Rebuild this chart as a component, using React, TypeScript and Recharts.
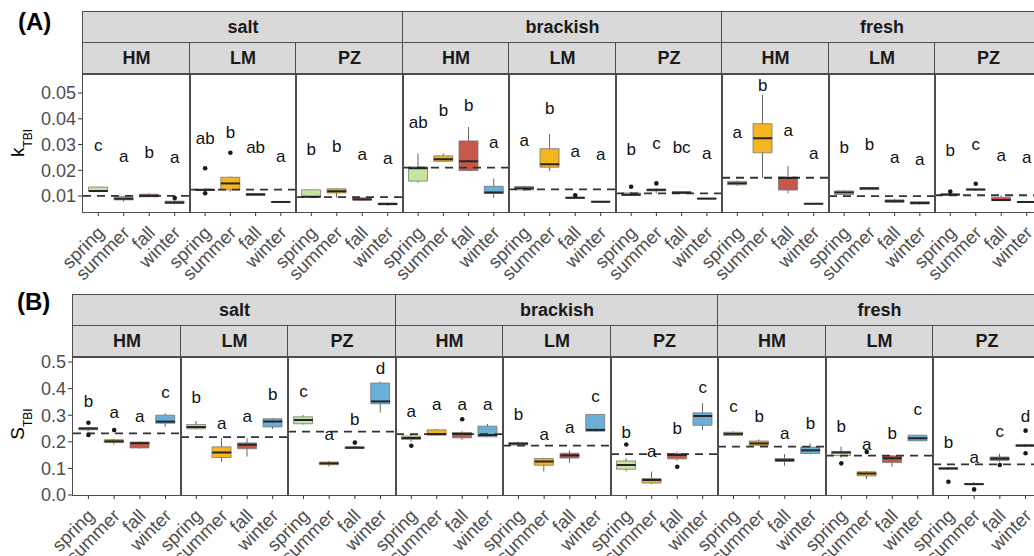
import { ComposedChart, Bar, Scatter, XAxis, YAxis, ReferenceLine, Cell } from "recharts"

const seasons = ["spring", "summer", "fall", "winter"]
const locations = ["salt", "brackish", "fresh"]
const marshTypes = ["HM", "LM", "PZ"]
const seasonFill = ["#c5e6a0", "#f6b51f", "#c6584a", "#6baed6"]

// each box: [lower whisker, q1, median, q3, upper whisker]
// panel order: salt HM/LM/PZ, brackish HM/LM/PZ, fresh HM/LM/PZ
type Box = number[]

const kBoxes: Box[][] = [
  [[0.0115, 0.0118, 0.012, 0.0135, 0.0137], [0.0079, 0.0085, 0.0089, 0.0097, 0.01], [0.0096, 0.0097, 0.0101, 0.0107, 0.011], [0.0068, 0.0071, 0.0075, 0.008, 0.0084]],
  [[0.0118, 0.0122, 0.0124, 0.0126, 0.0128], [0.0117, 0.0124, 0.0149, 0.0173, 0.0176], [0.0101, 0.0103, 0.0106, 0.011, 0.0112], [0.0075, 0.0076, 0.0077, 0.0078, 0.0079]],
  [[0.0095, 0.0096, 0.0097, 0.0124, 0.0125], [0.0093, 0.0112, 0.0119, 0.0128, 0.013], [0.0082, 0.0085, 0.0087, 0.0093, 0.0095], [0.0062, 0.0066, 0.0069, 0.0073, 0.0074]],
  [[0.0152, 0.0158, 0.0208, 0.0213, 0.0265], [0.0233, 0.0235, 0.0243, 0.0256, 0.0265], [0.0197, 0.0199, 0.0235, 0.0314, 0.0368], [0.0093, 0.011, 0.0114, 0.0138, 0.0168]],
  [[0.0121, 0.0124, 0.013, 0.0137, 0.014], [0.0197, 0.0212, 0.0223, 0.0284, 0.034], [0.009, 0.0091, 0.0093, 0.0095, 0.0097], [0.0076, 0.0077, 0.0078, 0.0079, 0.008]],
  [[0.0101, 0.0103, 0.0105, 0.0112, 0.0117], [0.011, 0.012, 0.0124, 0.0127, 0.013], [0.0108, 0.011, 0.0113, 0.0117, 0.0119], [0.0088, 0.0089, 0.009, 0.0091, 0.0092]],
  [[0.014, 0.0144, 0.015, 0.0157, 0.016], [0.0171, 0.0268, 0.0324, 0.0381, 0.0493], [0.011, 0.0123, 0.017, 0.0174, 0.0217], [0.0068, 0.0069, 0.007, 0.0071, 0.0072]],
  [[0.01, 0.0106, 0.0114, 0.012, 0.0123], [0.0122, 0.0125, 0.013, 0.0133, 0.0135], [0.0073, 0.0076, 0.008, 0.0085, 0.0089], [0.0066, 0.0069, 0.0073, 0.0078, 0.008]],
  [[0.0101, 0.0103, 0.0106, 0.0108, 0.011], [0.012, 0.0123, 0.0125, 0.0127, 0.0129], [0.008, 0.0082, 0.0085, 0.0095, 0.0102], [0.0073, 0.0075, 0.0077, 0.0079, 0.0081]],
]

const kOutliers: number[][][] = [
  [[], [], [], [0.0092]],
  [[0.0208, 0.0111], [0.0268], [], []],
  [[], [], [], []],
  [[], [], [], []],
  [[], [], [0.0103], []],
  [[0.0136], [0.0149], [], []],
  [[], [], [], []],
  [[], [], [], []],
  [[0.0117], [0.0148], [], []],
]

const kLetters = [
  ["c", "a", "b", "a"],
  ["ab", "b", "ab", "a"],
  ["b", "b", "a", "a"],
  ["ab", "b", "b", "a"],
  ["a", "b", "a", "a"],
  ["b", "c", "bc", "a"],
  ["a", "b", "a", "a"],
  ["b", "b", "a", "a"],
  ["b", "c", "a", "a"],
]

// baseline of each letter, in k units
const kLetterAt = [
  [0.0275, 0.0233, 0.0248, 0.0228],
  [0.0301, 0.0327, 0.0268, 0.0233],
  [0.026, 0.0272, 0.024, 0.0223],
  [0.0366, 0.0411, 0.0431, 0.0288],
  [0.0295, 0.042, 0.0252, 0.0239],
  [0.026, 0.0282, 0.0268, 0.0243],
  [0.0327, 0.0508, 0.0333, 0.0243],
  [0.0268, 0.0277, 0.023, 0.0221],
  [0.0256, 0.0277, 0.0236, 0.023],
]

const kDashed = [0.0101, 0.0125, 0.0096, 0.021, 0.0126, 0.011, 0.0171, 0.01, 0.0103]
const kTicks = [0.01, 0.02, 0.03, 0.04, 0.05]

const sBoxes: Box[][] = [
  [[0.24, 0.245, 0.25, 0.253, 0.255], [0.19, 0.197, 0.202, 0.208, 0.212], [0.174, 0.177, 0.195, 0.199, 0.201], [0.257, 0.27, 0.276, 0.3, 0.307]],
  [[0.246, 0.249, 0.256, 0.265, 0.278], [0.125, 0.141, 0.16, 0.181, 0.213], [0.145, 0.174, 0.189, 0.196, 0.213], [0.248, 0.256, 0.276, 0.287, 0.29]],
  [[0.265, 0.268, 0.282, 0.294, 0.301], [0.107, 0.114, 0.119, 0.124, 0.128], [0.172, 0.175, 0.178, 0.181, 0.183], [0.31, 0.343, 0.352, 0.421, 0.426]],
  [[0.2, 0.209, 0.214, 0.222, 0.226], [0.223, 0.225, 0.229, 0.245, 0.248], [0.208, 0.215, 0.229, 0.235, 0.24], [0.217, 0.219, 0.226, 0.259, 0.267]],
  [[0.186, 0.188, 0.193, 0.197, 0.201], [0.088, 0.112, 0.126, 0.137, 0.14], [0.121, 0.139, 0.149, 0.157, 0.168], [0.238, 0.24, 0.245, 0.303, 0.305]],
  [[0.088, 0.097, 0.113, 0.128, 0.138], [0.04, 0.045, 0.056, 0.062, 0.088], [0.13, 0.136, 0.15, 0.156, 0.163], [0.244, 0.262, 0.297, 0.309, 0.345]],
  [[0.222, 0.224, 0.23, 0.236, 0.24], [0.184, 0.187, 0.194, 0.203, 0.209], [0.11, 0.126, 0.131, 0.137, 0.154], [0.152, 0.156, 0.168, 0.18, 0.194]],
  [[0.14, 0.148, 0.16, 0.164, 0.182], [0.059, 0.072, 0.081, 0.087, 0.09], [0.106, 0.122, 0.138, 0.147, 0.15], [0.202, 0.204, 0.213, 0.225, 0.227]],
  [[0.094, 0.097, 0.1, 0.102, 0.104], [0.036, 0.039, 0.041, 0.043, 0.049], [0.124, 0.13, 0.137, 0.143, 0.155], [0.18, 0.183, 0.186, 0.189, 0.192]],
]

const sOutliers: number[][][] = [
  [[0.272, 0.226], [0.244], [], []],
  [[], [], [], []],
  [[], [], [0.197], []],
  [[0.185], [], [0.285], []],
  [[], [], [], []],
  [[0.19], [], [0.106], []],
  [[], [], [], []],
  [[0.119], [0.162], [], []],
  [[0.05], [0.021], [0.113], [0.242, 0.157]],
]

const sLetters = [
  ["b", "a", "a", "c"],
  ["b", "a", "a", "b"],
  ["c", "a", "b", "d"],
  ["a", "a", "a", "a"],
  ["b", "a", "a", "c"],
  ["b", "a", "b", "c"],
  ["c", "b", "a", "b"],
  ["b", "a", "b", "c"],
  ["b", "a", "c", "d"],
]

const sLetterAt = [
  [0.33, 0.288, 0.276, 0.364],
  [0.347, 0.248, 0.273, 0.357],
  [0.37, 0.207, 0.263, 0.454],
  [0.294, 0.32, 0.32, 0.32],
  [0.282, 0.207, 0.234, 0.351],
  [0.213, 0.144, 0.229, 0.382],
  [0.313, 0.276, 0.211, 0.248],
  [0.238, 0.169, 0.209, 0.301],
  [0.175, 0.119, 0.219, 0.276],
]

const sDashed = [0.232, 0.218, 0.238, 0.229, 0.186, 0.154, 0.182, 0.148, 0.115]
const sTicks = [0, 0.1, 0.2, 0.3, 0.4, 0.5]

const FONT = '"Liberation Sans", Arial, Helvetica, sans-serif'
const STRIP_H = 31
const PLOT_H = 138
const AXIS_H = 75
const Y_AXIS_W = 50
const EDGE = "#4d4d4d"

// rotated season label, its top-right corner just below the tick
function SeasonTick({ x, y, payload }: any) {
  const tx = x + 7
  const ty = y + 16
  return (
    <text x={tx} y={ty} transform={`rotate(-45 ${tx} ${ty})`} textAnchor="end" fontSize={18.5} fill="#4d4d4d" fontFamily={FONT}>
      {payload.value}
    </text>
  )
}

const ok = (v: any) => typeof v === "number" && Number.isFinite(v)

function MedianMark(props: any) {
  const { cx, cy } = props
  if (!ok(cx) || !ok(cy)) return <g />
  return <line x1={cx - 9.5} x2={cx + 9.5} y1={cy} y2={cy} stroke="#262626" strokeWidth={2} />
}

const outlierShape = (key: string) => (props: any) => {
  const { cx, cy, payload } = props
  if (payload?.[key] == null || !ok(cx) || !ok(cy)) return <g />
  return <circle cx={cx} cy={cy} r={2.3} fill="#1a1a1a" />
}

function LetterMark(props: any) {
  const { cx, cy, payload } = props
  if (!ok(cx) || !ok(cy)) return <g />
  return (
    <text x={cx} y={cy} textAnchor="middle" fontSize={17} fill="#111" fontFamily={FONT}>
      {payload.letter}
    </text>
  )
}

type PanelProps = {
  left: number
  width: number
  top: number
  withAxis: boolean
  domain: [number, number]
  ticks: number[]
  digits: number
  boxes: Box[]
  outliers: number[][]
  letters: string[]
  letterAt: number[]
  dashed: number
}

function Panel({ left, width, top, withAxis, domain, ticks, digits, boxes, outliers, letters, letterAt, dashed }: PanelProps) {
  const rows = seasons.map((season, j) => ({
    season,
    lo: boxes[j][0],
    q1: boxes[j][1],
    med: boxes[j][2],
    q3: boxes[j][3],
    hi: boxes[j][4],
    o1: outliers[j][0] ?? null,
    o2: outliers[j][1] ?? null,
    letter: letters[j],
    letterAt: letterAt[j],
  }))
  const axisW = withAxis ? Y_AXIS_W : 0
  // ggplot-style 0.6 unit expansion around the four seasons
  const pad = width * 0.0238

  return (
    <div style={{ position: "absolute", left: left - axisW, top }}>
      <ComposedChart width={width + axisW} height={PLOT_H + AXIS_H} data={rows} margin={{ top: 0, right: 0, bottom: 0, left: 0 }}>
        <XAxis
          xAxisId="box"
          dataKey="season"
          type="category"
          interval={0}
          padding={{ left: pad, right: pad }}
          height={AXIS_H}
          axisLine={false}
          tickSize={4}
          tickMargin={2}
          tickLine={{ stroke: "#333" }}
          tick={<SeasonTick />}
        />
        <XAxis xAxisId="whisker" dataKey="season" type="category" hide padding={{ left: pad, right: pad }} />
        <YAxis
          type="number"
          domain={domain}
          allowDataOverflow
          ticks={ticks}
          interval={0}
          hide={!withAxis}
          width={axisW}
          axisLine={false}
          tickSize={5}
          tickMargin={2}
          tickLine={{ stroke: "#333" }}
          tick={{ fontSize: 18, fill: "#4d4d4d", fontFamily: FONT }}
          tickFormatter={(v: number) => v.toFixed(digits)}
        />
        <Bar xAxisId="whisker" dataKey={(d: any) => [d.lo, d.hi]} barSize={1} fill="#666" isAnimationActive={false} />
        <Bar xAxisId="box" dataKey={(d: any) => [d.q1, d.q3]} barSize={19} stroke="#777" strokeWidth={0.8} isAnimationActive={false}>
          {rows.map((r, j) => (
            <Cell key={r.season} fill={seasonFill[j]} />
          ))}
        </Bar>
        <Scatter xAxisId="box" dataKey="med" shape={MedianMark} isAnimationActive={false} />
        <Scatter xAxisId="box" dataKey="o1" shape={outlierShape("o1")} isAnimationActive={false} />
        <Scatter xAxisId="box" dataKey="o2" shape={outlierShape("o2")} isAnimationActive={false} />
        <ReferenceLine xAxisId="box" y={dashed} stroke="#333" strokeWidth={1.8} strokeDasharray="8 6" />
        <Scatter xAxisId="box" dataKey="letterAt" shape={LetterMark} isAnimationActive={false} />
      </ComposedChart>
    </div>
  )
}

const stripStyle = (left: number, top: number, width: number): React.CSSProperties => ({
  position: "absolute",
  left: left - 0.75,
  top: top - 0.75,
  width: width + 1.5,
  height: STRIP_H + 1.5,
  boxSizing: "border-box",
  background: "#d9d9d9",
  border: `1.5px solid ${EDGE}`,
  display: "flex",
  alignItems: "center",
  justifyContent: "center",
  fontWeight: 700,
  fontSize: 18,
  color: "#1a1a1a",
})

type RowProps = {
  top: number
  left: number
  step: number
  domain: [number, number]
  ticks: number[]
  digits: number
  boxes: Box[][]
  outliers: number[][][]
  letters: string[][]
  letterAt: number[][]
  dashed: number[]
}

function FacetRow({ top, left, step, domain, ticks, digits, boxes, outliers, letters, letterAt, dashed }: RowProps) {
  const edges = Array.from({ length: 10 }, (_, i) => Math.round(left + i * step))
  const plotTop = top + 2 * STRIP_H

  return (
    <>
      {locations.map((loc, g) => (
        <div key={loc} style={stripStyle(edges[g * 3], top, edges[g * 3 + 3] - edges[g * 3])}>
          {loc}
        </div>
      ))}
      {edges.slice(0, 9).map((x, i) => (
        <div key={`t${i}`} style={stripStyle(x, top + STRIP_H, edges[i + 1] - x)}>
          {marshTypes[i % 3]}
        </div>
      ))}
      {edges.slice(0, 9).map((x, i) => (
        <Panel
          key={`p${i}`}
          left={x}
          width={edges[i + 1] - x}
          top={plotTop}
          withAxis={i === 0}
          domain={domain}
          ticks={ticks}
          digits={digits}
          boxes={boxes[i]}
          outliers={outliers[i]}
          letters={letters[i]}
          letterAt={letterAt[i]}
          dashed={dashed[i]}
        />
      ))}
      {edges.slice(0, 9).map((x, i) => (
        <div
          key={`b${i}`}
          style={{
            position: "absolute",
            left: x - 0.75,
            top: plotTop - 0.75,
            width: edges[i + 1] - x + 1.5,
            height: PLOT_H + 1.5,
            boxSizing: "border-box",
            border: `1.5px solid ${EDGE}`,
            pointerEvents: "none",
          }}
        />
      ))}
    </>
  )
}

export default function App() {
  return (
    <div
      style={{
        position: "absolute",
        left: 0,
        top: 0,
        width: 1034,
        height: 556,
        overflow: "hidden",
        background: "#fff",
        fontFamily: FONT,
      }}
    >
      <style>{`.recharts-surface { overflow: visible; }`}</style>
      <FacetRow
        top={12}
        left={83}
        step={106.5}
        domain={[0.0038, 0.0574]}
        ticks={kTicks}
        digits={2}
        boxes={kBoxes}
        outliers={kOutliers}
        letters={kLetters}
        letterAt={kLetterAt}
        dashed={kDashed}
      />
      <FacetRow
        top={295}
        left={73}
        step={107.5}
        domain={[0, 0.519]}
        ticks={sTicks}
        digits={1}
        boxes={sBoxes}
        outliers={sOutliers}
        letters={sLetters}
        letterAt={sLetterAt}
        dashed={sDashed}
      />
      <svg width={1034} height={556} style={{ position: "absolute", left: 0, top: 0, pointerEvents: "none" }}>
        <text x={18} y={30} fontSize={24} fontWeight={700} fill="#000" fontFamily={FONT}>
          (A)
        </text>
        <text x={17} y={310} fontSize={24} fontWeight={700} fill="#000" fontFamily={FONT}>
          (B)
        </text>
        <text x={24} y={143} transform="rotate(-90 24 143)" textAnchor="middle" fontSize={19} fill="#000" fontFamily={FONT}>
          k
          <tspan fontSize={12} dy={8}>
            TBI
          </tspan>
        </text>
        <text x={24} y={424} transform="rotate(-90 24 424)" textAnchor="middle" fontSize={19} fill="#000" fontFamily={FONT}>
          S
          <tspan fontSize={12} dy={8}>
            TBI
          </tspan>
        </text>
      </svg>
    </div>
  )
}
